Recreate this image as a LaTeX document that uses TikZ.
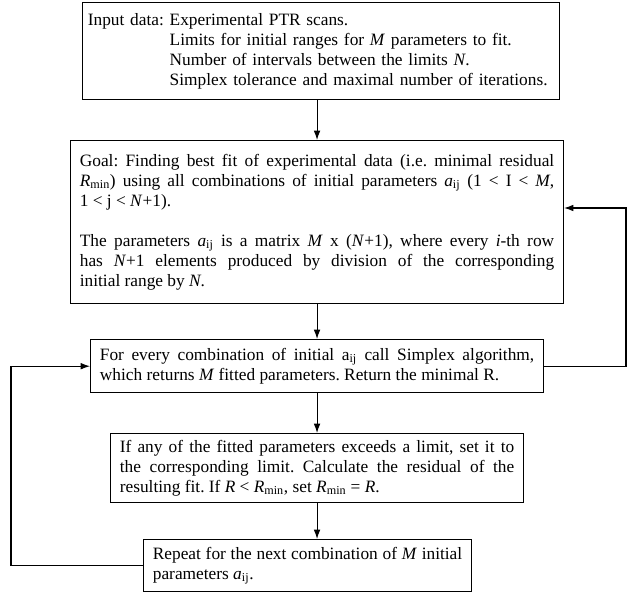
\documentclass[tikz,border=0pt]{standalone}
\usepackage{fontspec}
\setmainfont{Liberation Serif}
\usetikzlibrary{arrows.meta}
\newcommand{\idx}[1]{\textsubscript{#1}}
\tikzset{
  stepbox/.style={draw, line width=0.8pt, anchor=north west, inner xsep=7pt,
    inner ysep=5pt, align=justify, font=\fontsize{13}{15}\selectfont\frenchspacing},
  flow/.style={line width=0.8pt, -{Latex[length=7pt, width=5pt]}}
}

\begin{document}
\begin{tikzpicture}[x=0.75pt, y=-0.75pt]
  \useasboundingbox (0,0) rectangle (627,592);

  % boxes
  \node[stepbox, align=left, inner xsep=4pt, inner ysep=6.5pt, text width=350pt] (input) at (82,2)
    {\begin{tabular}{@{}l@{ }l@{}}
      Input data: & Experimental PTR scans.\\
       & Limits for initial ranges for \textit{M} parameters to fit.\\
       & Number of intervals between the limits \textit{N}.\\
       & Simplex tolerance and maximal number of iterations.
     \end{tabular}};

  \node[stepbox, text width=355.75pt, minimum height=122pt] (goal) at (70,140)
    {Goal: Finding best fit of experimental data (i.e. minimal residual\linebreak
     \textit{R}\idx{min}) using all combinations of initial parameters \textit{a}\idx{ij} (1 < I < \textit{M},\linebreak
     1 < j < \textit{N}+1).\par\vspace{15pt}
     The parameters \textit{a}\idx{ij} is a matrix \textit{M} x (\textit{N}+1), where every \textit{i}-th row\linebreak
     has \textit{N}+1 elements produced by division of the corresponding\linebreak
     initial range by \textit{N}.};

  \node[stepbox, text width=325.75pt, minimum height=40pt] (simplex) at (90,339)
    {For every combination of initial a\idx{ij} call Simplex algorithm,\linebreak
     which returns \textit{M} fitted parameters. Return the minimal R.};

  \node[stepbox, text width=295.75pt] (check) at (110,433)
    {If any of the fitted parameters exceeds a limit, set it to\linebreak
     the corresponding limit. Calculate the residual of the\linebreak
     resulting fit. If \textit{R} < \textit{R}\idx{min}, set \textit{R}\idx{min} = \textit{R}.};

  \node[stepbox, text width=232pt, minimum height=39pt] (repeat) at (143,539)
    {Repeat for the next combination of \textit{M} initial\linebreak
     parameters \textit{a}\idx{ij}.};

  % connectors
  \coordinate (rgt) at (626,208);
  \coordinate (lft) at (11,0);
  \draw[flow] (input.south -| goal.north) -- (goal.north);
  \draw[flow] (goal.south) -- (simplex.north);
  \draw[flow] (simplex.south) -- (check.north);
  \draw[flow] (check.south) -- (check.south |- repeat.north);
  \draw[flow] (simplex.east) -- (simplex.east -| rgt) -- (rgt) -- (rgt -| goal.east);
  \draw[flow] (repeat.west) -- (repeat.west -| lft) |- (simplex.west);
\end{tikzpicture}
\end{document}
